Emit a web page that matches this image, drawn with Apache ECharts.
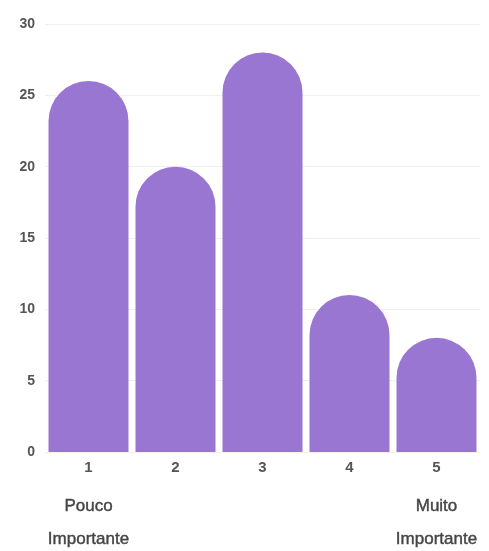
<!DOCTYPE html>
<html>
<head>
<meta charset="utf-8">
<script src="https://cdn.jsdelivr.net/npm/echarts@6/dist/echarts.min.js"></script>
<style>
  html, body { margin: 0; padding: 0; background: #fff; }
  #chart { width: 489px; height: 551px; }
</style>
</head>
<body>
<div id="chart"></div>
<script>
// Rating scale 1..5 and number of responses per rating
const categories = ['1', '2', '3', '4', '5'];
const counts = [26, 20, 28, 11, 8];
// Captions shown under the two ends of the scale
const endCaptions = { '1': 'Pouco\nImportante', '5': 'Muito\nImportante' };
const yTicks = { min: 0, max: 30, interval: 5 };

const chart = echarts.init(document.getElementById('chart'));

chart.setOption({
  backgroundColor: '#ffffff',
  animation: false,
  grid: { left: 45, right: 9, top: 24, bottom: 99 },
  xAxis: {
    type: 'category',
    data: categories,
    axisLine: { show: false },
    axisTick: { show: false },
    axisLabel: {
      margin: 4,
      interval: 0,
      formatter: function (v) {
        const cap = endCaptions[v];
        if (!cap) return '{n|' + v + '}';
        const lines = cap.split('\n').map(s => '{t|' + s + '}').join('\n');
        return '{n|' + v + '}\n{g|}\n' + lines;
      },
      rich: {
        n: { fontFamily: 'Liberation Sans', fontSize: 15, fontWeight: 'bold', color: '#555', lineHeight: 24 },
        g: { lineHeight: 10, height: 10 },
        t: { fontFamily: 'Liberation Sans', fontSize: 17, color: '#444', lineHeight: 33, textBorderColor: '#444', textBorderWidth: 0.4 }
      }
    }
  },
  yAxis: {
    type: 'value',
    min: yTicks.min,
    max: yTicks.max,
    interval: yTicks.interval,
    axisLine: { show: false },
    axisTick: { show: false },
    axisLabel: {
      margin: 10,
      fontFamily: 'Liberation Sans',
      fontSize: 14,
      fontWeight: 'bold',
      color: '#555'
    },
    splitLine: { lineStyle: { color: '#efefef', width: 1 } }
  },
  series: [{
    type: 'bar',
    data: counts,
    barWidth: 80,
    itemStyle: {
      color: '#9a76d3',
      borderRadius: [40, 40, 0, 0]
    }
  }]
});
</script>
</body>
</html>
